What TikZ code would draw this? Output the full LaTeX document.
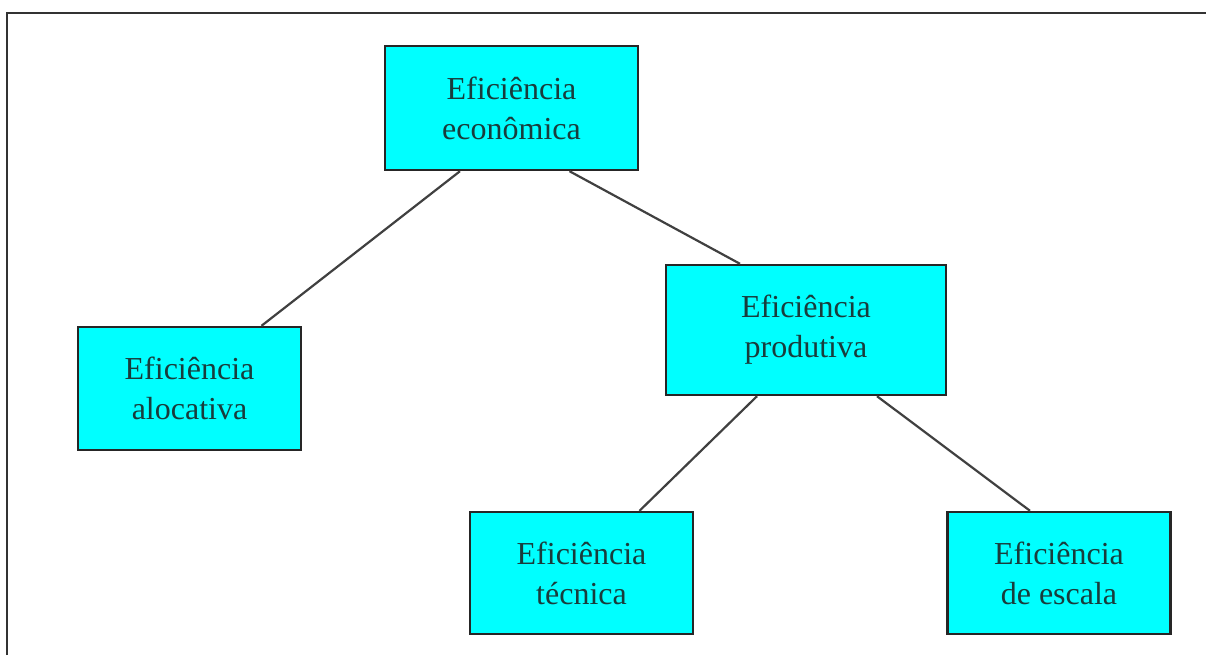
\documentclass[tikz,border=0pt]{standalone}
\usepackage{fontspec}
\setmainfont{Liberation Serif}
\usepackage{xcolor}
\usepackage{tikz}
\usetikzlibrary{positioning}

\definecolor{boxfill}{RGB}{0,255,255}
\definecolor{boxtext}{RGB}{25,60,60}

\begin{document}
\begin{tikzpicture}[
    x=0.5pt, y=-0.5pt,
    box/.style={draw=black!85, line width=1.2pt, fill=boxfill, text=boxtext, align=center,
                font=\fontsize{16}{20}\selectfont, inner sep=0pt},
    link/.style={draw=black!75, line width=1.1pt}
]
  \useasboundingbox (0,0) rectangle (1206,655);

  % Frame (top and left edges)
  \draw[line width=1.1pt, black!80] (7,655) -- (7,13) -- (1206,13);

  % Boxes
  \node[box, minimum width=126.5pt, minimum height=62pt] (econ) at (511.5,108) {Eficiência\\econômica};
  \node[box, minimum width=111.5pt, minimum height=61.5pt] (aloc) at (189.5,388.5) {Eficiência\\alocativa};
  \node[box, minimum width=140pt, minimum height=65pt] (prod) at (806,330) {Eficiência\\produtiva};
  \node[box, minimum width=111.5pt, minimum height=61pt] (tec) at (581.5,573) {Eficiência\\técnica};
  \node[box, minimum width=111.5pt, minimum height=61pt] (esc) at (1059,573) {Eficiência\\de escala};

  % Links
  \draw[link] ([xshift=-25.75pt]econ.south) -- ([xshift=36pt]aloc.north);
  \draw[link] ([xshift=29pt]econ.south) -- ([xshift=-33pt]prod.north);
  \draw[link] ([xshift=-24.5pt]prod.south) -- ([xshift=29pt]tec.north);
  \draw[link] ([xshift=35.5pt]prod.south) -- ([xshift=-14.5pt]esc.north);
\end{tikzpicture}
\end{document}
